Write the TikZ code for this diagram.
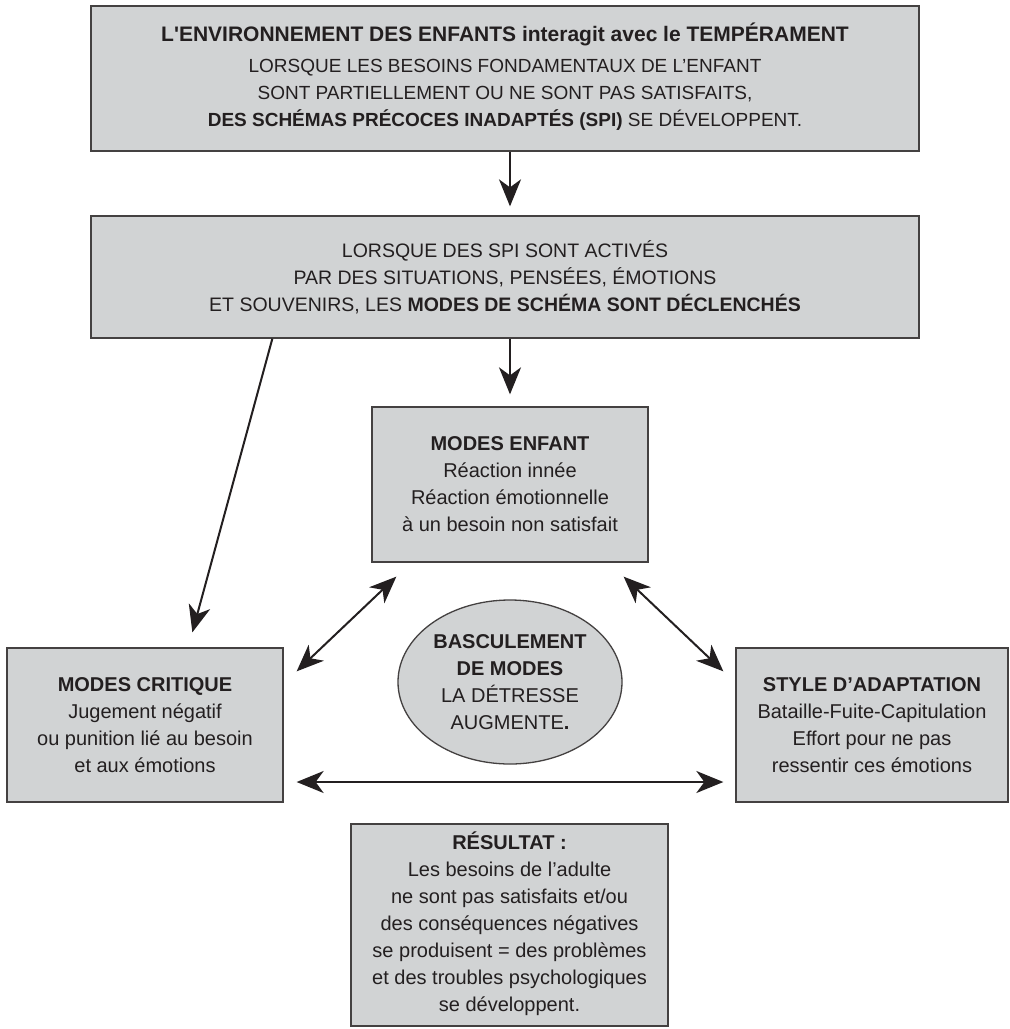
\documentclass[tikz,border=0pt]{standalone}
\usepackage{fontspec}
\setmainfont{Liberation Sans}
\newfontfamily\plainlib{Liberation Sans}
\usetikzlibrary{arrows.meta,shapes.geometric}
\definecolor{boxfill}{HTML}{D1D3D4}
\definecolor{ink}{HTML}{231F20}
\begin{document}
\begin{tikzpicture}[x=1pt,y=-1pt,
  box/.style={draw=ink!85, line width=1.3pt, fill=boxfill, text=ink, align=center, inner sep=0pt, rectangle},
  oval/.style={draw=ink!85, line width=1.3pt, fill=boxfill, text=ink, align=center, inner sep=0pt, ellipse},
  arr/.style={line width=2pt, draw=ink, -{Stealth[length=27pt,width=22pt,inset=8pt]}},
  darr/.style={line width=2pt, draw=ink, {Stealth[length=27pt,width=22pt,inset=8pt]}-{Stealth[length=27pt,width=22pt,inset=8pt]}},
  body/.style={font=\fontsize{20}{27}\selectfont},
]
\useasboundingbox (0,0) rectangle (1010,1029);
\fill[white] (0,0) rectangle (1010,1029);

\node[box, minimum width=828pt, minimum height=145pt, font=\fontsize{19}{27}\selectfont] (top) at (505,78.5)
 {\raisebox{-5pt}{\begin{tabular}{@{}c@{}}{\fontsize{21}{28}\selectfont\bfseries L{\plainlib'}ENVIRONNEMENT DES ENFANTS interagit avec le TEMPÉRAMENT}\\[4pt]
  LORSQUE LES BESOINS FONDAMENTAUX DE L’ENFANT\\
  SONT PARTIELLEMENT OU NE SONT PAS SATISFAITS,\\
  \textbf{DES SCHÉMAS PRÉCOCES INADAPTÉS (SPI)} SE DÉVELOPPENT.\end{tabular}}};

\node[box, minimum width=828pt, minimum height=122pt, font=\fontsize{19.5}{27}\selectfont] (second) at (505,277)
 {LORSQUE DES SPI SONT ACTIVÉS\\
  PAR DES SITUATIONS, PENSÉES, ÉMOTIONS\\
  ET SOUVENIRS, LES \textbf{MODES DE SCHÉMA SONT DÉCLENCHÉS}};

\node[box, body, minimum width=276pt, minimum height=155pt] (enfant) at (510,484.5)
 {\textbf{MODES ENFANT}\\ Réaction innée\\ Réaction émotionnelle\\ à un besoin non satisfait};

\node[box, body, minimum width=276pt, minimum height=154pt] (critique) at (145,725)
 {\textbf{MODES CRITIQUE}\\ Jugement négatif\\ ou punition lié au besoin\\ et aux émotions};

\node[box, body, minimum width=272pt, minimum height=154pt] (style) at (872,725)
 {\textbf{STYLE D’ADAPTATION}\\ Bataille-Fuite-Capitulation\\ Effort pour ne pas\\ ressentir ces émotions};

\node[oval, body, minimum width=224pt, minimum height=164pt] (bascule) at (510,682)
 {\textbf{BASCULEMENT}\\ \textbf{DE MODES}\\ LA DÉTRESSE\\ AUGMENTE\textbf{.}};

\node[box, body, minimum width=317pt, minimum height=202pt] (result) at (509.5,925)
 {\raisebox{-5pt}{\begin{tabular}{@{}c@{}}\textbf{RÉSULTAT :}\\ Les besoins de l’adulte\\ ne sont pas satisfaits et/ou\\ des conséquences négatives\\ se produisent = des problèmes\\ et des troubles psychologiques\\ se développent.\end{tabular}}};

% connectors
\draw[arr, shorten >=9pt] (top.south -| enfant.north) -- (second.north -| enfant.north);
\draw[arr, shorten >=12pt] (second.south -| enfant.north) -- (enfant.north);
\coordinate (dtip) at ([xshift=186pt, yshift=15pt]critique.north west);
\draw[arr] ([xshift=182pt]second.south west) -- (dtip);
\draw[darr] ([xshift=13pt,yshift=-24pt]critique.north east) -- ([xshift=25pt,yshift=-14pt]enfant.south west);
\draw[darr] ([xshift=-25pt,yshift=-14pt]enfant.south east) -- ([xshift=-12pt,yshift=-24pt]style.north west);
\draw[darr] ([xshift=13pt,yshift=-57pt]critique.east) -- ([xshift=-12pt,yshift=-57pt]style.west);
\end{tikzpicture}
\end{document}
